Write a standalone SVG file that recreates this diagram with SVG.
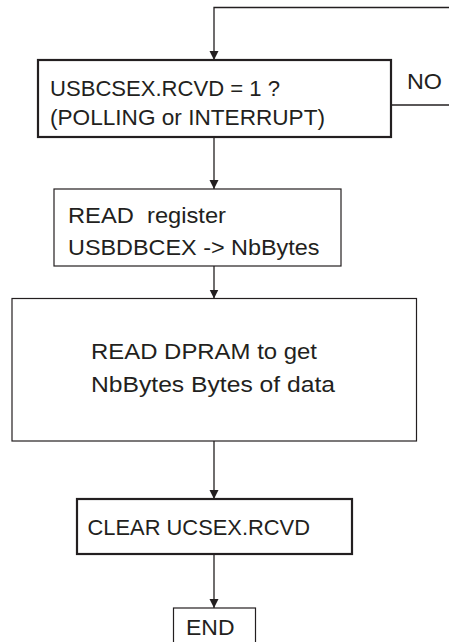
<svg xmlns="http://www.w3.org/2000/svg" width="449" height="642" viewBox="0 0 449 642">
<style>
  .box { fill: #ffffff; stroke: #231f20; }
  .thin { stroke-width: 1.2; }
  .thick { stroke-width: 2.2; }
  .lbl { font-family: "Liberation Sans", Arial, sans-serif; font-size: 22px; fill: #231f20; }
  .wire { fill: none; stroke: #231f20; stroke-width: 1.3; }
</style>
<defs>
  <marker id="arr" markerUnits="userSpaceOnUse" markerWidth="10" markerHeight="10" viewBox="0 0 10 10" refX="9" refY="5" orient="auto">
    <path d="M0,0.5 L9,5 L0,9.5 Z" fill="#231f20"/>
  </marker>
</defs>
<rect width="449" height="642" fill="#ffffff"/>
<g id="connectors">
  <polyline class="wire" points="449,7.5 214,7.5 214,60" marker-end="url(#arr)"/>
  <line class="wire" x1="391" y1="105" x2="449" y2="105"/>
  <line class="wire" x1="214" y1="137" x2="214" y2="189" marker-end="url(#arr)"/>
  <line class="wire" x1="214" y1="266" x2="214" y2="298.5" marker-end="url(#arr)"/>
  <line class="wire" x1="214" y1="441" x2="214" y2="499" marker-end="url(#arr)"/>
  <line class="wire" x1="214" y1="554" x2="214" y2="608" marker-end="url(#arr)"/>
</g>
<g id="check-rcvd">
  <rect class="box thick" x="38" y="60" width="353" height="77"/>
  <text class="lbl" x="50" y="96" textLength="230" lengthAdjust="spacingAndGlyphs">USBCSEX.RCVD = 1 ?</text>
  <text class="lbl" x="50" y="125" textLength="275" lengthAdjust="spacingAndGlyphs">(POLLING or INTERRUPT)</text>
</g>
<g id="no-label">
  <text class="lbl" x="407" y="89" textLength="35" lengthAdjust="spacingAndGlyphs">NO</text>
</g>
<g id="read-register">
  <rect class="box thin" x="54" y="189" width="287" height="77"/>
  <text class="lbl" x="68" y="222.5" xml:space="preserve" textLength="158" lengthAdjust="spacingAndGlyphs">READ  register</text>
  <text class="lbl" x="68" y="254.5" textLength="251.5" lengthAdjust="spacingAndGlyphs">USBDBCEX -&gt; NbBytes</text>
</g>
<g id="read-dpram">
  <rect class="box thin" x="12" y="298.5" width="404.5" height="142.5"/>
  <text class="lbl" x="91" y="359" textLength="226" lengthAdjust="spacingAndGlyphs">READ DPRAM to get</text>
  <text class="lbl" x="91" y="391.5" textLength="244" lengthAdjust="spacingAndGlyphs">NbBytes Bytes of data</text>
</g>
<g id="clear-rcvd">
  <rect class="box thick" x="77" y="499" width="275" height="55"/>
  <text class="lbl" x="87.5" y="534.5" textLength="222.5" lengthAdjust="spacingAndGlyphs">CLEAR UCSEX.RCVD</text>
</g>
<g id="end">
  <rect class="box thin" x="173.5" y="608" width="82" height="40"/>
  <text class="lbl" x="186" y="635" textLength="48.5" lengthAdjust="spacingAndGlyphs">END</text>
</g>
</svg>
